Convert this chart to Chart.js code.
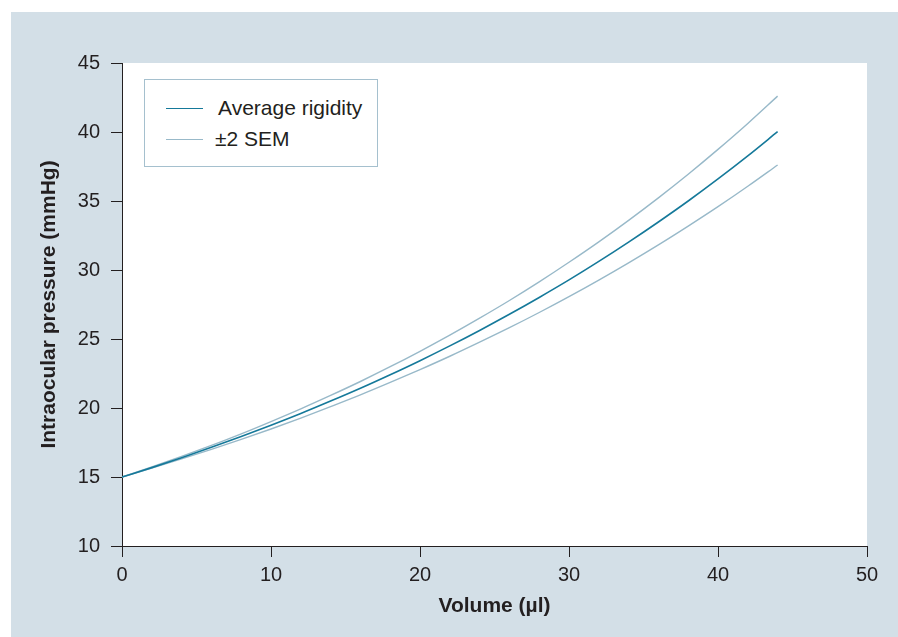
<!DOCTYPE html>
<html>
<head>
<meta charset="utf-8">
<script src="https://cdn.jsdelivr.net/npm/chart.js@4"></script>
<style>
  html, body { margin: 0; padding: 0; background: #ffffff; }
  #wrap { position: relative; width: 898px; height: 637px; }
  canvas { position: absolute; left: 0; top: 0; }
  #legend {
    position: absolute; left: 144px; top: 79px; width: 234px; height: 88px;
    border: 1px solid #a5c0ce; background: #ffffff; box-sizing: border-box;
    font-family: "Liberation Sans", Arial, Helvetica, sans-serif; font-size: 21px; color: #231f20;
  }
  .item { position: absolute; left: 0; height: 24px; line-height: 24px; white-space: nowrap; }
  .swatch { position: absolute; left: 21px; top: 11px; width: 37px; }
  .label { position: absolute; left: 73px; top: 0; }
</style>
</head>
<body>
<div id="wrap">
  <canvas id="c" width="898" height="637"></canvas>
  <div id="legend"></div>
</div>
<script>
// Volume (µl)
const volumes = [0, 2, 4, 6, 8, 10, 12, 14, 16, 18, 20, 22, 24, 26, 28, 30, 32, 34, 36, 38, 40, 42, 44];
// Intraocular pressure (mmHg)
const averageRigidity = [15.00, 15.68, 16.40, 17.15, 17.93, 18.75, 19.60, 20.50, 21.43, 22.41, 23.43, 24.50, 25.62, 26.79, 28.01, 29.28, 30.62, 32.02, 33.48, 35.00, 36.60, 38.27, 40.02];
const upperSEM = [15.00, 15.73, 16.49, 17.29, 18.13, 19.02, 19.94, 20.91, 21.92, 22.99, 24.11, 25.28, 26.51, 27.79, 29.14, 30.56, 32.04, 33.60, 35.23, 36.94, 38.74, 40.62, 42.60];
const lowerSEM = [15.00, 15.64, 16.31, 17.00, 17.73, 18.48, 19.27, 20.10, 20.95, 21.85, 22.78, 23.75, 24.77, 25.82, 26.92, 28.07, 29.27, 30.52, 31.82, 33.18, 34.59, 36.07, 37.61];
const xTicks = [0, 10, 20, 30, 40, 50];
const yTicks = [10, 15, 20, 25, 30, 35, 40, 45];
const legendLabels = ["Average rigidity", "\u00b12 SEM"];
const xTitle = "Volume (\u00b5l)";
const yTitle = "Intraocular pressure (mmHg)";

const AVG_COLOR = "#15799a";
const SEM_COLOR = "#98b9c9";
const PANEL = "#d3dfe7";
const INK = "#231f20";
const FONT = "'Liberation Sans', Arial, Helvetica, sans-serif";

const toXY = arr => volumes.map((v, i) => ({ x: v, y: arr[i] }));

const bgPlugin = {
  id: "bg",
  beforeDraw(chart) {
    const { ctx, chartArea } = chart;
    ctx.save();
    ctx.fillStyle = "#ffffff";
    ctx.fillRect(0, 0, chart.width, chart.height);
    ctx.fillStyle = PANEL;
    ctx.fillRect(11, 12, chart.width - 11, chart.height - 12);
    ctx.fillStyle = "#ffffff";
    ctx.fillRect(chartArea.left, chartArea.top, chartArea.right - chartArea.left, chartArea.bottom - chartArea.top);
    ctx.restore();
  }
};

const chart = new Chart(document.getElementById("c"), {
  type: "line",
  data: {
    datasets: [
      { label: legendLabels[0], data: toXY(averageRigidity), borderColor: AVG_COLOR, borderWidth: 1.6 },
      { label: legendLabels[1], data: toXY(upperSEM), borderColor: SEM_COLOR, borderWidth: 1.4 },
      { label: legendLabels[1] + " (lower)", data: toXY(lowerSEM), borderColor: SEM_COLOR, borderWidth: 1.4 }
    ]
  },
  options: {
    responsive: false,
    devicePixelRatio: 1,
    animation: false,
    events: [],
    elements: { point: { radius: 0 }, line: { tension: 0.4, cubicInterpolationMode: "monotone", fill: false } },
    layout: { padding: { left: 11, top: 63, right: 31, bottom: 0 } },
    plugins: { legend: { display: false }, tooltip: { enabled: false } },
    scales: {
      x: {
        type: "linear", min: 0, max: 50,
        afterBuildTicks(s) { s.ticks = xTicks.map(v => ({ value: v })); },
        afterFit(s) { s.height = 91; },
        border: { display: true, color: INK, width: 1 },
        grid: { drawOnChartArea: false, drawTicks: true, tickLength: 11, color: INK, lineWidth: 1 },
        ticks: { color: INK, font: { family: FONT, size: 20 }, padding: 6, maxRotation: 0 },
        title: { display: true, text: xTitle, color: INK, font: { family: FONT, size: 21, weight: "bold" }, padding: { top: 0, bottom: 18 } }
      },
      y: {
        type: "linear", min: 10, max: 45,
        afterBuildTicks(s) { s.ticks = yTicks.map(v => ({ value: v })); },
        afterFit(s) { s.width = 111; },
        border: { display: true, color: INK, width: 1 },
        grid: { drawOnChartArea: false, drawTicks: true, tickLength: 11, color: INK, lineWidth: 1 },
        ticks: { color: INK, font: { family: FONT, size: 20 }, padding: 11 },
        title: { display: true, text: yTitle, color: INK, font: { family: FONT, size: 21, weight: "bold" }, padding: { top: 26, bottom: 0 } }
      }
    }
  },
  plugins: [bgPlugin]
});

// HTML legend built from dataset labels/colours
const legend = document.getElementById("legend");
[[0, 16], [1, 47]].forEach(([di, top]) => {
  const ds = chart.data.datasets[di];
  const item = document.createElement("div");
  item.className = "item";
  item.style.top = top + "px";
  const sw = document.createElement("div");
  sw.className = "swatch";
  sw.style.top = "12px";
  sw.style.borderTop = ds.borderWidth + "px solid " + ds.borderColor;
  const lb = document.createElement("span");
  lb.className = "label";
  lb.textContent = ds.label;
  if (di === 1) lb.style.left = "70px";
  item.appendChild(sw);
  item.appendChild(lb);
  legend.appendChild(item);
});
</script>
</body>
</html>
